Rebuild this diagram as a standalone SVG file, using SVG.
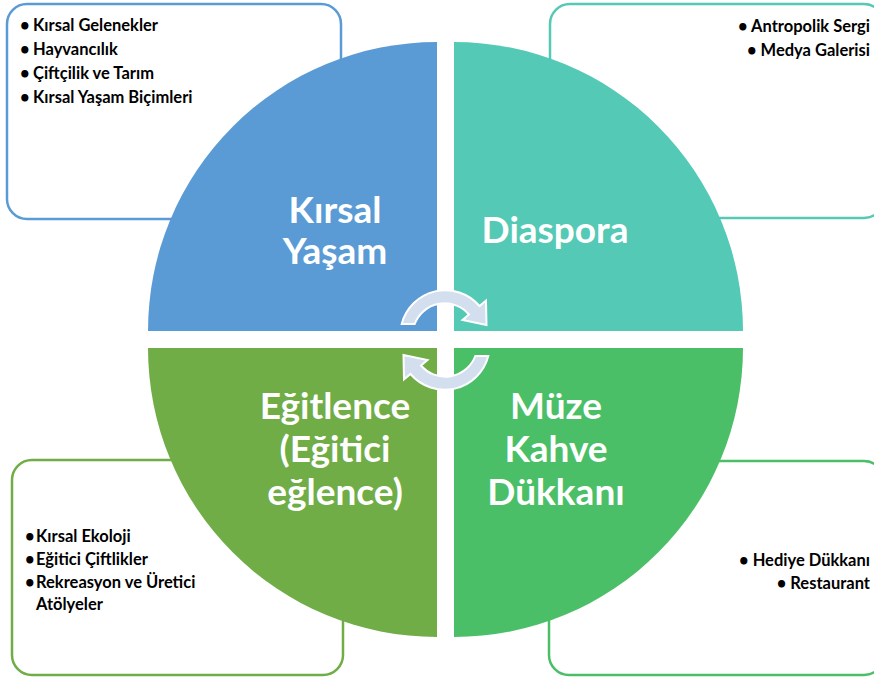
<svg xmlns="http://www.w3.org/2000/svg" width="874" height="682" viewBox="0 0 874 682">
<style>
.box{fill:#FFFFFF;stroke-width:2.5}
.item{font-family:Lato,"Liberation Sans",sans-serif;font-weight:bold;font-size:16.5px;fill:#000000}
.big{font-family:Lato,"Liberation Sans",sans-serif;font-weight:bold;font-size:37px;fill:#FFFFFF;text-anchor:middle}
.arrow{fill:#D3DEEF;stroke:#FFFFFF;stroke-width:2;stroke-linejoin:miter}
</style>
<rect width="874" height="682" fill="#FFFFFF"/>
<g id="box-kirsal">
<rect class="box" x="7" y="4" width="334" height="215" rx="20" stroke="#5B9BD5"/>
<text class="item" y="31"><tspan x="20">•</tspan><tspan x="33">Kırsal Gelenekler</tspan></text>
<text class="item" y="55"><tspan x="20">•</tspan><tspan x="33">Hayvancılık</tspan></text>
<text class="item" y="79"><tspan x="20">•</tspan><tspan x="33">Çiftçilik ve Tarım</tspan></text>
<text class="item" y="103"><tspan x="20">•</tspan><tspan x="33">Kırsal Yaşam Biçimleri</tspan></text>
</g>
<g id="box-diaspora">
<rect class="box" x="550" y="4" width="334" height="214" rx="20" stroke="#54C9B5"/>
<text class="item" x="870" y="32" text-anchor="end">• Antropolik Sergi</text>
<text class="item" x="870" y="56" text-anchor="end">• Medya Galerisi</text>
</g>
<g id="box-egitlence">
<rect class="box" x="12" y="460" width="331" height="215" rx="20" stroke="#70AD47"/>
<text class="item" y="542"><tspan x="25">•</tspan><tspan x="36">Kırsal Ekoloji</tspan></text>
<text class="item" y="565"><tspan x="25">•</tspan><tspan x="36">Eğitici Çiftlikler</tspan></text>
<text class="item" y="588"><tspan x="25">•</tspan><tspan x="36">Rekreasyon ve Üretici</tspan></text>
<text class="item" x="36" y="610">Atölyeler</text>
</g>
<g id="box-muze">
<rect class="box" x="549" y="461" width="335" height="214" rx="20" stroke="#4BBF67"/>
<text class="item" x="870" y="566" text-anchor="end">• Hediye Dükkanı</text>
<text class="item" x="870" y="589" text-anchor="end">• Restaurant</text>
</g>
<g id="q-kirsal">
<path d="M437 331 L148 331 A289 289 0 0 1 437 42 Z" fill="#5B9BD5"/>
<text class="big" x="335" y="223">Kırsal</text>
<text class="big" x="335" y="264">Yaşam</text>
</g>
<g id="q-diaspora">
<path d="M454 331 L454 42 A289 289 0 0 1 743 331 Z" fill="#54C9B5"/>
<text class="big" x="555" y="243">Diaspora</text>
</g>
<g id="q-egitlence">
<path d="M437 348 L437 637 A289 289 0 0 1 148 348 Z" fill="#70AD47"/>
<text class="big" x="335" y="419">Eğitlence</text>
<text class="big" x="335" y="462">(Eğitici</text>
<text class="big" x="335" y="505">eğlence)</text>
</g>
<g id="q-muze">
<path d="M454 348 L743 348 A289 289 0 0 1 454 637 Z" fill="#4BBF67"/>
<text class="big" x="556" y="419">Müze</text>
<text class="big" x="556" y="462">Kahve</text>
<text class="big" x="556" y="505">Dükkanı</text>
</g>
<g id="connectors">
<path class="arrow" d="M401.7 324 A45 45 0 0 1 479.5 306 L486 300.5 L486.5 325 L462.5 320 L469 314.5 A32 32 0 0 0 414.7 324 Z"/>
<path class="arrow" transform="rotate(180 445 340)" d="M401.7 324 A45 45 0 0 1 479.5 306 L486 300.5 L486.5 325 L462.5 320 L469 314.5 A32 32 0 0 0 414.7 324 Z"/>
</g>
</svg>
